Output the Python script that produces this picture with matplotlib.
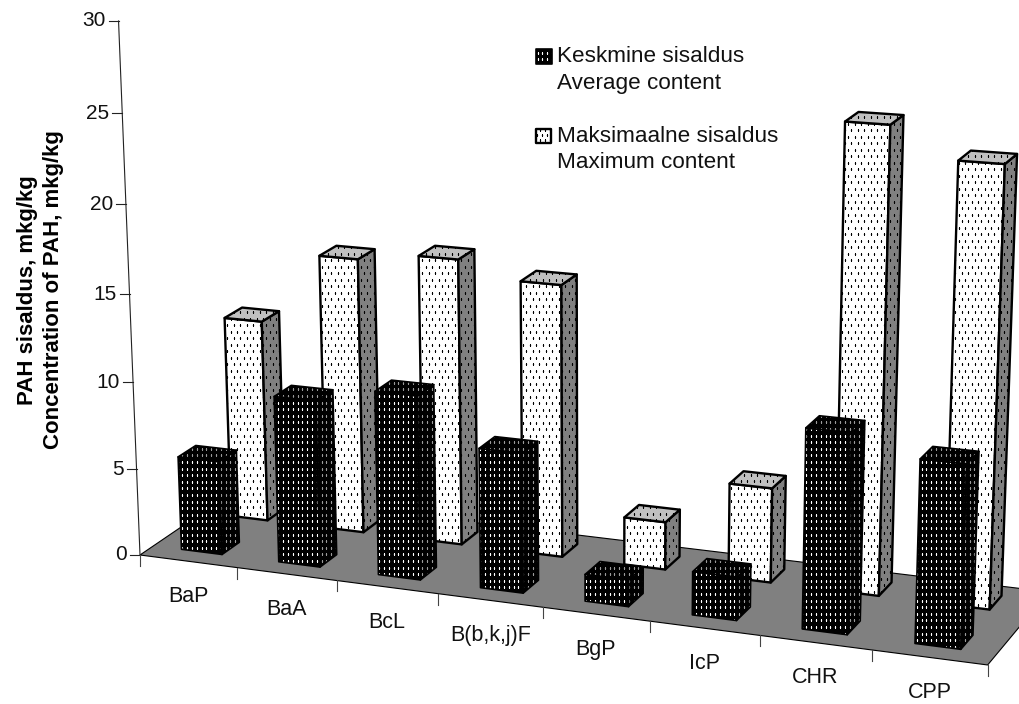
import numpy as np
import matplotlib
matplotlib.use('Agg')
import matplotlib.pyplot as plt
from matplotlib.patches import Polygon

plt.rcParams['font.family'] = ['Liberation Sans', 'DejaVu Sans']

categories = ['BaP', 'BaA', 'BcL', 'B(b,k,j)F', 'BgP', 'IcP', 'CHR', 'CPP']
average = [5.4, 9.5, 10.4, 7.85, 1.5, 2.4, 10.9, 9.9]
maximum = [11.7, 15.8, 16.3, 15.4, 2.7, 5.3, 25.4, 23.8]
y_ticks = [0, 5, 10, 15, 20, 25, 30]

W, H = 1020, 704

# camera for the 3d look: (category, depth, value) -> pixel
g = 0.0438
A = 0.001486
P = np.array([
    [94.3, 2308 * g, -A * 600, 140],
    [5.9, -919 * g, -A * 12000, 555],
    [-0.0118, g, -A, 1],
])


def proj(u, d, z=0):
    x, y, w = P @ np.array([u, d, z, 1.0])
    return x / w, y / w


def dots(ax, patch, color, dx, dy, stagger, size=0.9):
    # screen fixed dot brush like the old office charts
    xs, ys = [], []
    for r, yy in enumerate(np.arange(0, H, dy)):
        off = dx / 2 if (stagger and r % 2) else 0
        for xx in np.arange(off, W, dx):
            xs.append(xx)
            ys.append(yy)
    l, = ax.plot(xs, ys, ls='', marker='s', ms=size, mew=0, color=color, zorder=patch.get_zorder())
    l.set_clip_path(patch)


def face(ax, pts, fc, dotc, zo, brush, lw):
    p = Polygon(pts, closed=True, fc=fc, ec='none', zorder=zo)
    ax.add_patch(p)
    dots(ax, p, dotc, *brush)
    ax.add_patch(Polygon(pts, closed=True, fc='none', ec='black', lw=lw, joinstyle='round', zorder=zo + 0.001))


def bar(ax, u0, u1, d0, d1, z, cols, zo, brush, lw):
    front = [proj(u0, d0), proj(u1, d0), proj(u1, d0, z), proj(u0, d0, z)]
    side = [proj(u1, d0), proj(u1, d1), proj(u1, d1, z), proj(u1, d0, z)]
    top = [proj(u0, d0, z), proj(u1, d0, z), proj(u1, d1, z), proj(u0, d1, z)]
    face(ax, front, cols[0], cols[1], zo, brush, lw)
    face(ax, side, cols[2], cols[3], zo + 0.01, brush, lw)
    face(ax, top, cols[4], cols[5], zo + 0.02, brush, lw)


white_cols = ['white', 'black', '#808080', 'black', '#c0c0c0', 'black']
black_cols = ['black', 'white', 'black', '#999999', 'black', '#999999']
white_brush = (6.5, 6.5, True)
black_brush = (4.8, 6.6, False)

fig = plt.figure(figsize=(W / 100, H / 100), dpi=100)
ax = fig.add_axes([0, 0, 1, 1])
ax.set_xlim(0, W)
ax.set_ylim(H, 0)
ax.axis('off')

# floor
floor = [proj(0, 0), proj(8, 0), proj(8, 1), proj(0, 1)]
ax.add_patch(Polygon(floor, closed=True, fc='#808080', ec='black', lw=0.8, zorder=1))

# y axis
x0, y0 = proj(0, 0, 0)
x1, y1 = proj(0, 0, 30)
ax.plot([x0, x1], [y0, y1], color='#222222', lw=0.8, zorder=1)
for t in y_ticks:
    xt, yt = proj(0, 0, t)
    ax.plot([xt - 10, xt], [yt, yt], color='#222222', lw=0.8, zorder=1)
    ax.text(xt - 13, yt, str(t), ha='right', va='center', fontsize=15, color='#111111')

# x ticks and labels
for i in range(len(categories) + 1):
    xt, yt = proj(i, 0)
    ax.plot([xt, xt], [yt, yt + 11], color='#444444', lw=0.8, zorder=1)
for i, c in enumerate(categories):
    xt, yt = proj(i + 0.5, 0)
    ax.text(xt, yt + 35, c, ha='center', va='center', fontsize=15.5, color='#111111')

# white ones go behind all the black ones
for i, v in enumerate(maximum):
    bar(ax, i + 0.30 - 0.0075 * i, i + 0.685 - 0.0055 * i, 0.68, 0.875, v, white_cols, 2 + i * 0.1, white_brush, 1.7)
for i, v in enumerate(average):
    bar(ax, i + 0.29, i + 0.71 - 0.003 * i, 0.145, 0.335, v, black_cols, 4 + i * 0.1, black_brush, 1.2)

# legend
sw1 = [(536, 49), (552, 49), (552, 64), (536, 64)]
sw2 = [(536, 129), (551, 129), (551, 143), (536, 143)]
face(ax, sw1, 'black', 'white', 6, black_brush, 1.2)
face(ax, sw2, 'white', 'black', 6, (5, 5, True), 1.7)
ax.text(557, 57, 'Keskmine sisaldus', va='center', fontsize=16.2, color='#111111')
ax.text(557, 83, 'Average content', va='center', fontsize=16.2, color='#111111')
ax.text(557, 137, 'Maksimaalne sisaldus', va='center', fontsize=16.2, color='#111111')
ax.text(557, 163, 'Maximum content', va='center', fontsize=16.2, color='#111111')

# y title
ax.text(28, 290, 'PAH sisaldus, mkg/kg', rotation=90, ha='center', va='center',
        fontsize=16, fontweight='bold', color='black')
ax.text(54, 290, 'Concentration of PAH, mkg/kg', rotation=90, ha='center', va='center',
        fontsize=16, fontweight='bold', color='black')

fig.savefig('out.png', dpi=100)
